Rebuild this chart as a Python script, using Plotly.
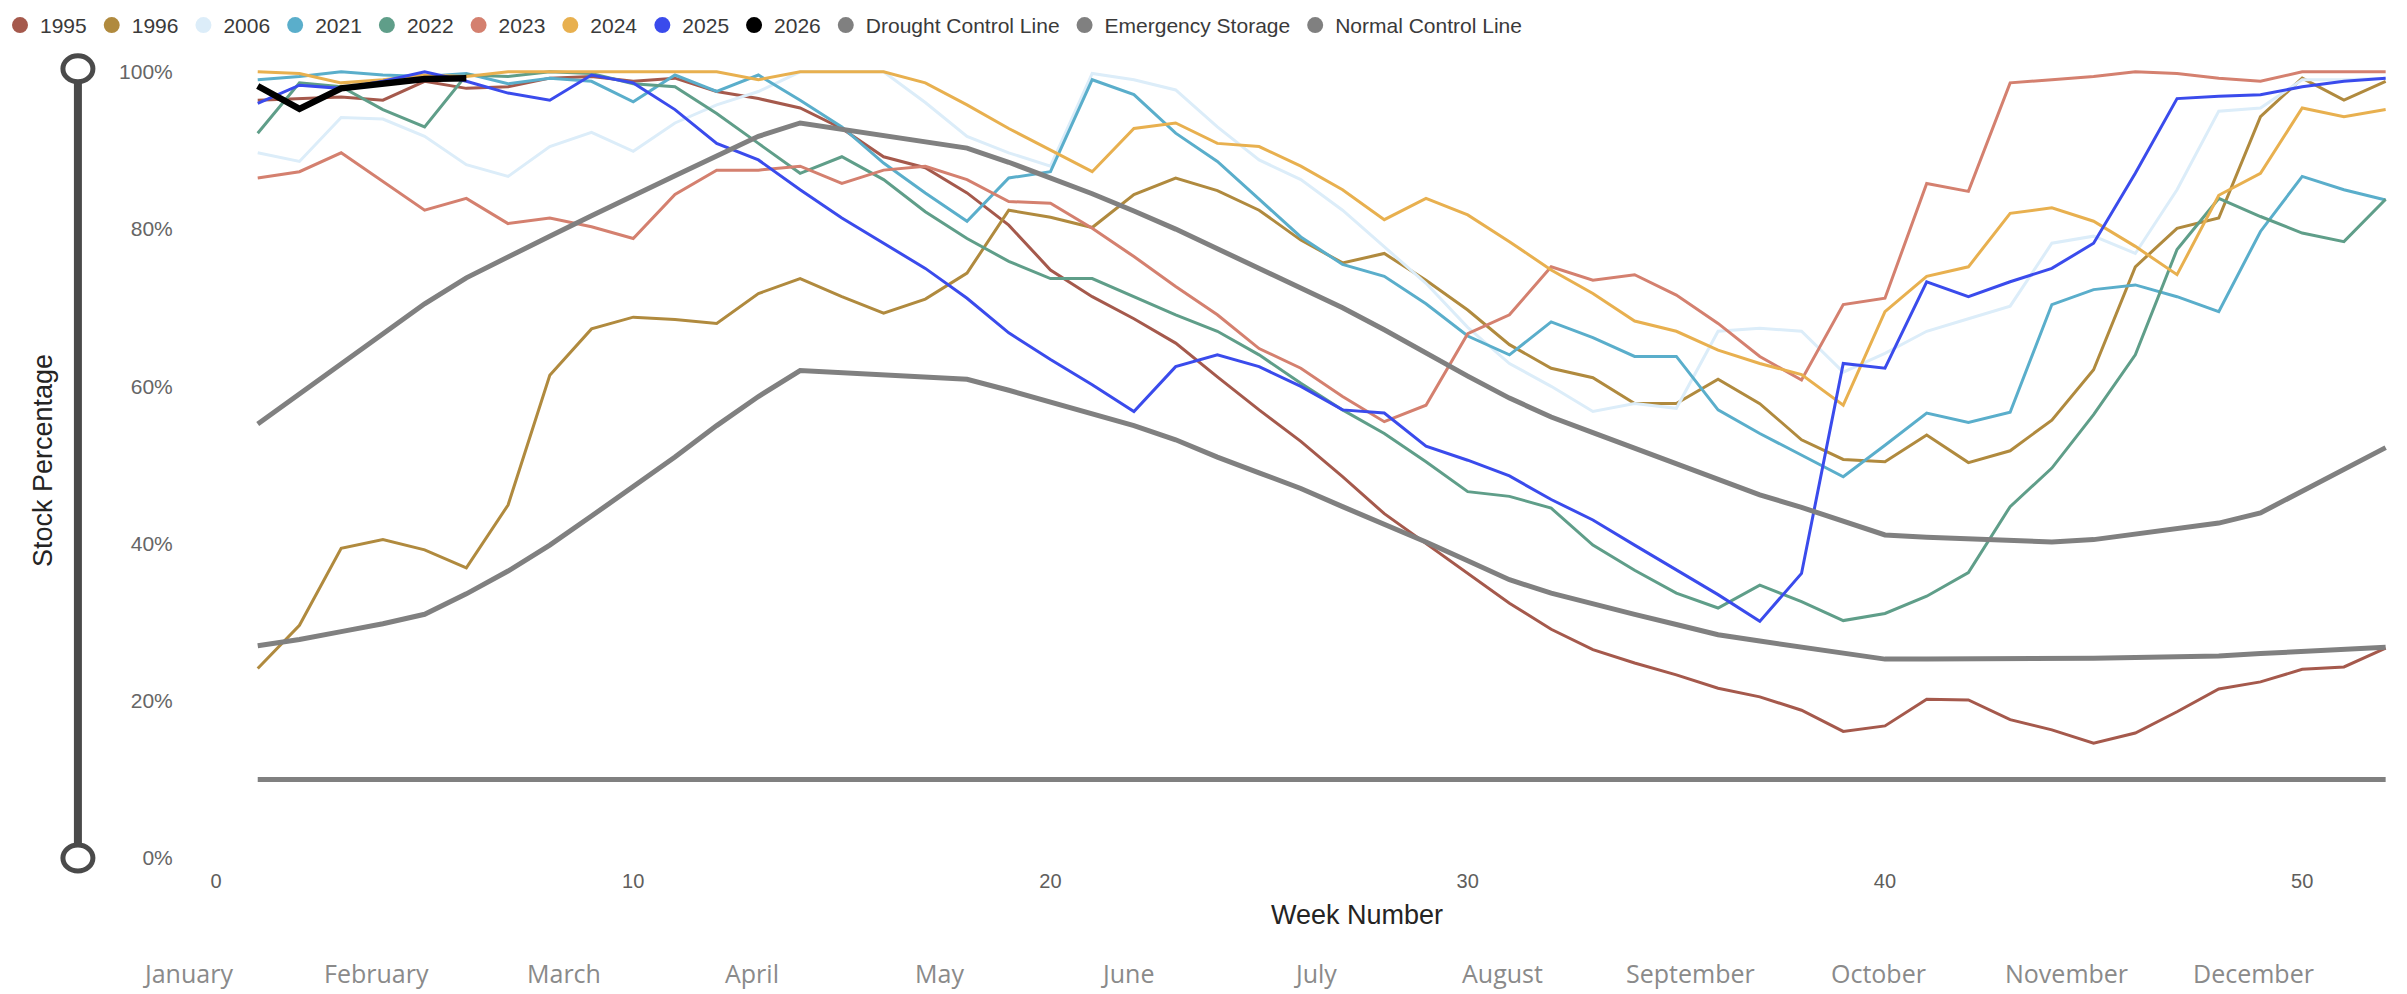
import plotly.graph_objects as go

# Weekly reservoir stock (% of capacity)
weeks = list(range(1, 53))

y1995 = [96.4, 96.6, 96.8, 96.4, 98.8, 97.9, 98.1, 99.2, 99.4, 98.8,
         99.2, 97.5, 96.6, 95.4, 92.8, 89.2, 87.8, 84.6, 80.5, 74.8,
         71.4, 68.6, 65.5, 61.2, 57.0, 53.0, 48.5, 43.8, 40.0, 36.2,
         32.4, 29.1, 26.5, 24.8, 23.3, 21.6, 20.5, 18.8, 16.1, 16.8,
         20.2, 20.1, 17.6, 16.3, 14.6, 15.9, 18.6, 21.5, 22.4, 24.0,
         24.3, 26.7]
y1996 = [24.1, 29.6, 39.4, 40.5, 39.2, 36.9, 44.9, 61.4, 67.3, 68.8,
         68.5, 68.0, 71.8, 73.7, 71.4, 69.3, 71.1, 74.4, 82.4, 81.5,
         80.2, 84.4, 86.5, 84.9, 82.4, 78.6, 75.7, 76.9, 73.5, 69.7,
         65.3, 62.3, 61.1, 57.8, 57.8, 60.9, 57.8, 53.2, 50.7, 50.4,
         53.8, 50.3, 51.8, 55.7, 62.1, 75.2, 80.1, 81.4, 94.3, 99.2,
         96.4, 98.8]
y2006 = [89.7, 88.6, 94.2, 94.0, 91.8, 88.2, 86.7, 90.5, 92.3, 89.9,
         93.5, 95.8, 97.5, 100, 100, 100, 96.1, 91.8, 89.7, 88.0,
         99.8, 99.0, 97.7, 93.0, 88.8, 86.3, 82.4, 77.8, 73.1, 67.5,
         62.9, 60.0, 56.8, 57.8, 57.2, 67.0, 67.4, 67.0, 61.8, 64.2,
         67.0, 68.6, 70.2, 78.2, 79.1, 76.9, 85.0, 95.0, 95.4, 99.0,
         99.0, 99.2]
y2021 = [99.0, 99.4, 100, 99.6, 99.4, 99.8, 98.5, 99.2, 98.8, 96.2,
         99.6, 97.5, 99.6, 96.4, 93.0, 88.4, 84.6, 81.0, 86.5, 87.3,
         99.0, 97.1, 92.2, 88.6, 83.8, 79.0, 75.5, 74.0, 70.5, 66.4,
         64.0, 68.2, 66.2, 63.8, 63.8, 57.0, 54.0, 51.3, 48.5, 52.5,
         56.6, 55.4, 56.7, 70.4, 72.3, 72.9, 71.4, 69.5, 79.7, 86.7,
         85.0, 83.7]
y2022 = [92.2, 98.6, 98.1, 95.2, 93.0, 99.6, 99.4, 100, 99.8, 98.5,
         98.1, 94.7, 90.9, 87.1, 89.2, 86.3, 82.2, 78.8, 75.9, 73.7,
         73.7, 71.4, 69.1, 67.0, 64.0, 60.4, 57.0, 54.0, 50.4, 46.6,
         46.0, 44.5, 39.8, 36.6, 33.7, 31.8, 34.7, 32.6, 30.2, 31.1,
         33.3, 36.3, 44.7, 49.6, 56.4, 64.0, 77.4, 83.9, 81.6, 79.5,
         78.4, 83.8]
y2023 = [86.5, 87.3, 89.7, 86.1, 82.4, 83.9, 80.7, 81.4, 80.3, 78.8,
         84.4, 87.5, 87.5, 88.0, 85.8, 87.5, 88.0, 86.3, 83.5, 83.3,
         80.1, 76.5, 72.7, 69.1, 64.8, 62.3, 58.7, 55.5, 57.6, 66.7,
         69.1, 75.2, 73.5, 74.2, 71.6, 68.0, 63.8, 60.8, 70.4, 71.2,
         85.8, 84.8, 98.6, 99.0, 99.4, 100, 99.8, 99.2, 98.8, 100,
         100, 100]
y2024 = [100, 99.8, 98.6, 99.0, 99.6, 99.4, 100, 100, 100, 100,
         100, 100, 99.0, 100, 100, 100, 98.6, 95.8, 92.8, 90.1,
         87.3, 92.8, 93.5, 90.9, 90.5, 88.0, 85.0, 81.2, 83.9, 81.8,
         78.4, 74.8, 71.8, 68.3, 67.0, 64.6, 62.9, 61.5, 57.6, 69.5,
         74.0, 75.2, 82.0, 82.7, 81.0, 77.8, 74.2, 84.3, 87.1, 95.4,
         94.3, 95.2]
y2025 = [96.0, 98.3, 97.9, 98.8, 100, 98.8, 97.3, 96.4, 99.6, 98.6,
         95.2, 90.9, 88.8, 85.0, 81.4, 78.2, 75.0, 71.2, 66.8, 63.4,
         60.2, 56.8, 62.5, 64.0, 62.5, 60.0, 57.0, 56.6, 52.4, 50.6,
         48.6, 45.6, 43.0, 39.8, 36.6, 33.5, 30.1, 36.2, 62.9, 62.3,
         73.3, 71.4, 73.3, 75.0, 78.2, 87.1, 96.6, 96.9, 97.1, 98.1,
         98.8, 99.2]
y2026 = [98.2, 95.3, 97.9, 98.5, 99.1, 99.2]

drought_control = [27.0, 27.8, 28.8, 29.8, 31.0, 33.6, 36.5, 39.8, 43.5, 47.3,
                   51.0, 55.0, 58.7, 62.0, 61.7, 61.4, 61.1, 60.9, 59.5, 58.0,
                   56.5, 55.0, 53.2, 51.0, 49.0, 47.0, 44.7, 42.5, 40.2, 37.8,
                   35.4, 33.7, 32.3, 31.0, 29.7, 28.4, 27.6, 26.8, 26.0, 25.3,
                   25.3, 25.3, 25.3, 25.3, 25.4, 25.5, 25.6, 25.7, 26.0, 26.3,
                   26.5, 26.8]
emergency_storage = [10, 10, 10, 10, 10, 10, 10, 10, 10, 10,
                     10, 10, 10, 10, 10, 10, 10, 10, 10, 10,
                     10, 10, 10, 10, 10, 10, 10, 10, 10, 10,
                     10, 10, 10, 10, 10, 10, 10, 10, 10, 10,
                     10, 10, 10, 10, 10, 10, 10, 10, 10, 10,
                     10, 10]
normal_control = [55.2, 59.0, 62.8, 66.6, 70.5, 73.8, 76.5, 79.1, 81.7, 84.3,
                  86.8, 89.3, 91.8, 93.5, 92.7, 91.9, 91.1, 90.3, 88.5, 86.5,
                  84.5, 82.3, 80.0, 77.5, 75.0, 72.5, 70.0, 67.2, 64.2, 61.3,
                  58.5, 56.1, 54.1, 52.1, 50.1, 48.1, 46.2, 44.6, 42.8, 41.1,
                  40.8, 40.6, 40.4, 40.2, 40.5, 41.2, 41.9, 42.6, 43.9, 46.7,
                  49.4, 52.2]

y_ticks = [0, 20, 40, 60, 80, 100]
y_tick_labels = ['0%', '20%', '40%', '60%', '80%', '100%']
x_ticks = [0, 10, 20, 30, 40, 50]
months = ['January', 'February', 'March', 'April', 'May', 'June', 'July',
          'August', 'September', 'October', 'November', 'December']

GREY = '#808080'
year_series = [
    ('1995', y1995, '#a5594c'),
    ('1996', y1996, '#b08a3e'),
    ('2006', y2006, '#dcedf9'),
    ('2021', y2021, '#5aaecb'),
    ('2022', y2022, '#5f9e89'),
    ('2023', y2023, '#d4806f'),
    ('2024', y2024, '#e8b04f'),
    ('2025', y2025, '#3a4bec'),
]
control_series = [
    ('Drought Control Line', drought_control),
    ('Emergency Storage', emergency_storage),
    ('Normal Control Line', normal_control),
]

X_MAX = 52.2
Y_MAX = 101

fig = go.Figure()

# real lines (legend drawn separately with round dots, like the original)
for name, vals, color in year_series:
    fig.add_trace(go.Scatter(
        x=weeks[:len(vals)], y=vals, mode='lines', name=name,
        line=dict(color=color, width=3), showlegend=False,
    ))
for name, vals in control_series:
    fig.add_trace(go.Scatter(
        x=weeks[:len(vals)], y=vals, mode='lines', name=name,
        line=dict(color=GREY, width=5), showlegend=False,
    ))
fig.add_trace(go.Scatter(
    x=weeks[:len(y2026)], y=y2026, mode='lines', name='2026',
    line=dict(color='#000000', width=6.5), showlegend=False,
))

# legend entries
legend_items = [(n, c) for n, _, c in year_series] + [('2026', '#000000')] \
    + [(n, GREY) for n, _ in control_series]
for name, color in legend_items:
    fig.add_trace(go.Scatter(
        x=[None], y=[None], mode='markers', name=name,
        marker=dict(color=color, size=16, symbol='circle'),
    ))

# month strip under the axis
annotations = []
for i, m in enumerate(months):
    annotations.append(dict(
        text=m, xref='paper', yref='paper',
        x=(-0.66 + 4.5 * i) / X_MAX, y=-0.145,
        xanchor='center', yanchor='middle', showarrow=False,
        font=dict(family='Open Sans, sans-serif', size=25, color='#8a8a8a'),
    ))
annotations.append(dict(
    text='Stock Percentage', xref='paper', yref='paper', x=-0.0794, y=0.5,
    textangle=-90, xanchor='center', yanchor='middle', showarrow=False,
    font=dict(size=27, color='#252423'),
))
annotations.append(dict(
    text='Week Number', xref='paper', yref='paper', x=0.524, y=-0.072,
    xanchor='center', yanchor='middle', showarrow=False,
    font=dict(size=27, color='#252423'),
))

# range slider look-alike on the left
SLIDER_X = -0.0634
SLIDER_TOP = 100.4 / Y_MAX
shapes = [
    dict(type='line', xref='paper', yref='paper', x0=SLIDER_X, x1=SLIDER_X,
         y0=0, y1=SLIDER_TOP, line=dict(color='#4a4a4a', width=8)),
]
for anchor in (SLIDER_TOP, 0):
    shapes.append(dict(
        type='circle', xref='paper', yref='paper',
        xsizemode='pixel', ysizemode='pixel',
        xanchor=SLIDER_X, yanchor=anchor,
        x0=-15, x1=15, y0=-13, y1=13,
        fillcolor='white', line=dict(color='#4a4a4a', width=5),
    ))

fig.update_layout(
    width=2407,
    height=994,
    margin=dict(l=216, r=13, t=64, b=136),
    plot_bgcolor='white',
    paper_bgcolor='white',
    font=dict(family='Liberation Sans, Arial, sans-serif'),
    legend=dict(
        orientation='h', xref='container', yref='container',
        x=0, y=0.995, xanchor='left', yanchor='top',
        font=dict(size=21, color='#3a3a3a'),
        tracegroupgap=0,
    ),
    annotations=annotations,
    shapes=shapes,
    hovermode=False,
)
fig.update_xaxes(
    range=[0, X_MAX], tickvals=x_ticks, showgrid=False, zeroline=False,
    showline=False, ticks='outside', ticklen=5, tickcolor='rgba(0,0,0,0)',
    tickfont=dict(size=20, color='#605e5c'),
)
fig.update_yaxes(
    range=[0, Y_MAX], tickvals=y_ticks, ticktext=y_tick_labels,
    showgrid=False, zeroline=False, showline=False,
    ticks='outside', ticklen=38, tickcolor='rgba(0,0,0,0)',
    tickfont=dict(size=21, color='#666666'),
)

# drop the default body margin so the figure sits at the page origin
fig.write_html('out.html', config={'displayModeBar': False},
               post_script="document.body.style.margin='0';")
